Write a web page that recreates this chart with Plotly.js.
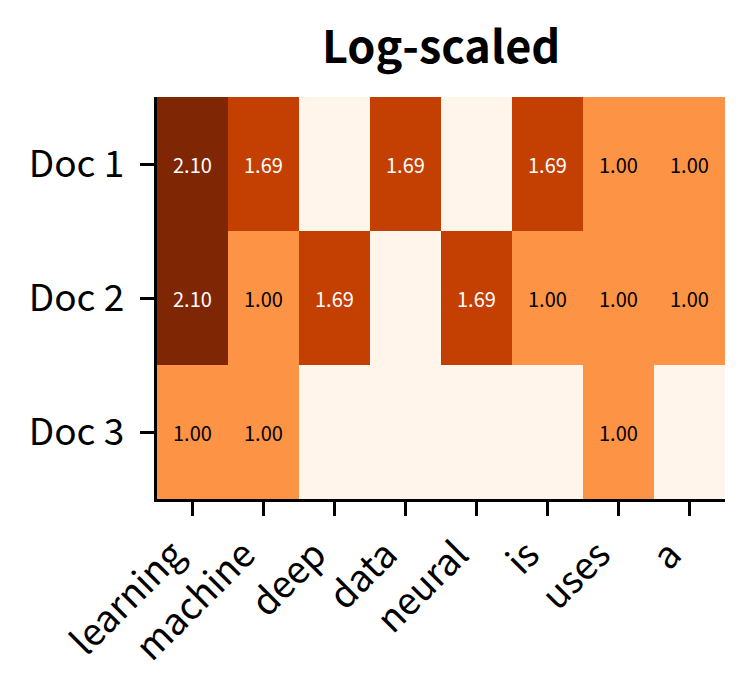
<!DOCTYPE html>
<html>
<head>
<meta charset="utf-8">
<script src="https://cdn.plot.ly/plotly-3.0.1.min.js"></script>
<style>html,body{margin:0;padding:0;background:#fff}#chart{width:754px;height:694px}</style>
</head>
<body>
<div id="chart"></div>
<script>
const terms = ["learning", "machine", "deep", "data", "neural", "is", "uses", "a"];
const docs = ["Doc 1", "Doc 2", "Doc 3"];
const doc1 = [2.10, 1.69, 0, 1.69, 0, 1.69, 1.00, 1.00];
const doc2 = [2.10, 1.00, 1.69, 0, 1.69, 1.00, 1.00, 1.00];
const doc3 = [1.00, 1.00, 0, 0, 0, 0, 1.00, 0];
const titleText = "Log-scaled";

const z = [doc1, doc2, doc3];
const FONT = "'Noto Sans CJK JP', 'Source Sans Pro', 'Noto Sans', sans-serif";

const oranges = [
  [0.0, "#fff5eb"], [0.125, "#fee6ce"], [0.25, "#fdd0a2"], [0.375, "#fdae6b"],
  [0.5, "#fd8d3c"], [0.625, "#f16913"], [0.75, "#d94801"], [0.875, "#a63603"], [1.0, "#7f2704"]
];
let zmax = 0;
z.forEach(r => r.forEach(v => { if (v > zmax) zmax = v; }));

const annotations = [];
z.forEach((row, i) => row.forEach((v, j) => {
  if (v !== 0) {
    annotations.push({
      x: terms[j], y: docs[i], xref: "x", yref: "y",
      text: v.toFixed(2), showarrow: false,
      font: {family: FONT, size: 20, color: v / zmax > 0.6 ? "#ffffff" : "#000000"}
    });
  }
}));

const trace = {
  type: "heatmap", z: z, x: terms, y: docs,
  colorscale: oranges, zmin: 0, zmax: zmax, showscale: false,
  xgap: 0, ygap: 0, hoverinfo: "skip"
};

const layout = {
  width: 754, height: 694,
  margin: {l: 157, r: 29, t: 97, b: 195},
  paper_bgcolor: "#ffffff", plot_bgcolor: "#ffffff",
  font: {family: FONT, color: "#000000"},
  title: {text: "<b>" + titleText + "</b>", font: {family: FONT, size: 45, color: "#000"},
          x: 0.585, xanchor: "center", y: 0.932, yanchor: "middle"},
  xaxis: {
    showline: true, linecolor: "#000", linewidth: 3, mirror: false,
    ticks: "outside", ticklen: 14, tickwidth: 3, tickcolor: "#000",
    tickangle: -45, tickfont: {family: FONT, size: 37, color: "#000"},
    ticklabelshift: -19, ticklabelstandoff: 2,
    showgrid: false, zeroline: false, fixedrange: true
  },
  yaxis: {
    autorange: "reversed",
    showline: true, linecolor: "#000", linewidth: 3, mirror: false,
    ticks: "outside", ticklen: 14, tickwidth: 3, tickcolor: "#000",
    tickfont: {family: FONT, size: 37, color: "#000"},
    showgrid: false, zeroline: false, fixedrange: true, ticksuffix: " "
  },
  annotations: annotations
};

Plotly.newPlot("chart", [trace], layout, {displayModeBar: false, staticPlot: true});
</script>
</body>
</html>
